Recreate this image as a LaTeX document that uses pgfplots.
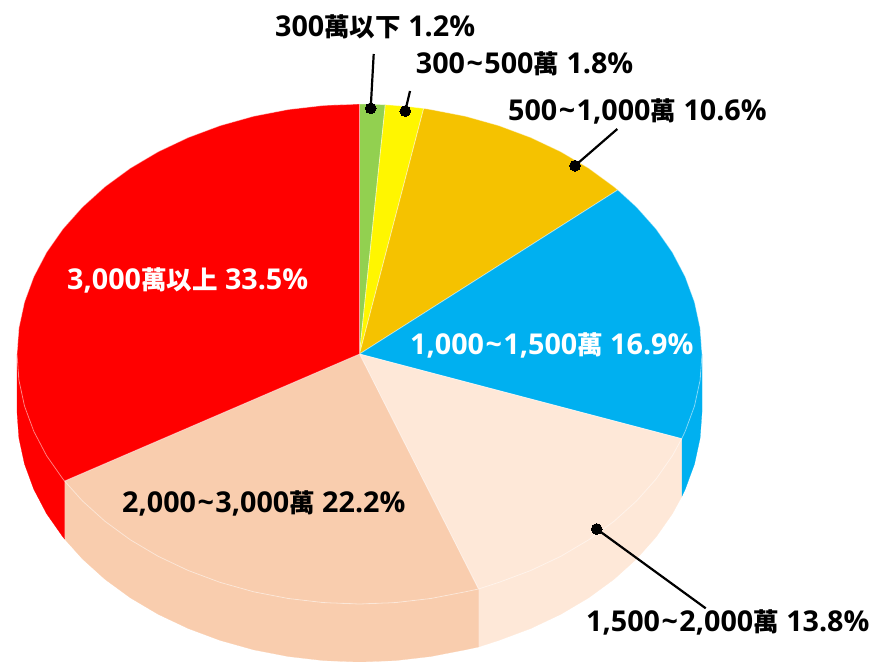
\documentclass[border=0pt]{standalone}
\usepackage{fontspec}
\usepackage{pgfplots}
\pgfplotsset{compat=1.18}
\setmainfont{Open Sans}
\newfontfamily\cjk{Noto Sans CJK TC Bold}
\definecolor{cgreen}{HTML}{92D050}
\definecolor{cyellow}{HTML}{FFF600}
\definecolor{corange}{HTML}{F5C200}
\definecolor{cblue}{HTML}{00B0F0}
\definecolor{clight}{HTML}{FEE8D8}
\definecolor{cpeach}{HTML}{F9CDAE}
\definecolor{cred}{HTML}{FF0000}
\newcommand{\lab}[4]{\node[anchor=base west,inner sep=0pt,text=#4,font=\fontsize{28.7}{30}\selectfont\bfseries] at (axis cs:#1,#2) {#3};}
\newcommand{\C}[1]{{\fontsize{25.5}{29}\cjk #1}}
\newcommand{\T}{\kern1.5pt\textasciitilde\kern1.5pt}
\begin{document}
\begin{tikzpicture}
\begin{axis}[
  at={(0,0)}, anchor=south west,
  scale only axis, width=872pt, height=661pt,
  xmin=0, xmax=872, ymin=0, ymax=661, y dir=reverse,
  hide axis, clip=true,
  rim/.style={draw=white,draw opacity=0.45,line width=0.8pt,line join=round},
  lead/.style={black,line width=2.2pt,mark=*,mark size=5.4pt,mark options={fill=black,draw=black,line width=0pt},mark indices={2}}
]
% side walls
\addplot[fill=cblue,draw=cblue,line width=0.2pt] coordinates {(702,354)(700.1,380.1)(694.5,406)(685.2,431.3)(681.7,438.7)(681.7,496.7)(685.2,489.3)(694.5,464)(700.1,438.1)(702,412)} --cycle;
\addplot[fill=clight,draw=clight,line width=0.2pt] coordinates {(681.7,438.7)(672.4,455.7)(656.1,479)(636.6,500.9)(614,521.3)(588.7,539.8)(560.8,556.3)(530.75,570.5)(498.8,582.4)(478.5,589)(478.5,647)(498.8,640.4)(530.75,628.5)(560.8,614.3)(588.7,597.8)(614,579.3)(636.6,558.9)(656.1,537)(672.4,513.7)(681.7,496.7)} --cycle;
\addplot[fill=cpeach,draw=cpeach,line width=0.2pt] coordinates {(478.5,589)(465.3,591.8)(430.7,598.5)(395.3,602.6)(359.5,604)(323.7,602.6)(288.3,598.5)(253.7,591.8)(220.2,582.4)(188.25,570.5)(158.2,556.3)(130.3,539.8)(105,521.3)(82.4,500.9)(64.6,481)(64.6,539)(82.4,558.9)(105,579.3)(130.3,597.8)(158.2,614.3)(188.25,628.5)(220.2,640.4)(253.7,649.8)(288.3,656.5)(323.7,660.6)(359.5,662)(395.3,660.6)(430.7,656.5)(465.3,649.8)(478.5,647)} --cycle;
\addplot[fill=cred,draw=cred,line width=0.2pt] coordinates {(64.6,481)(62.9,479)(46.6,455.7)(33.8,431.3)(24.5,406)(18.9,380.1)(17,354)(17,412)(18.9,438.1)(24.5,464)(33.8,489.3)(46.6,513.7)(62.9,537)(64.6,539)} --cycle;
% top wedges
\addplot[fill=cgreen,rim] coordinates {(359.5,354)(359.5,104)(372.5,104.2)(385.3,104.7)} --cycle;
\addplot[fill=cyellow,rim] coordinates {(359.5,354)(385.3,104.7)(395.3,105.4)(409.5,106.7)(423.7,108.4)} --cycle;
\addplot[fill=corange,rim] coordinates {(359.5,354)(423.7,108.4)(430.7,109.5)(465.3,116.2)(498.8,125.6)(530.75,137.5)(560.8,151.7)(588.7,168.2)(614,186.7)(617.8,189.9)} --cycle;
\addplot[fill=cblue,rim] coordinates {(359.5,354)(617.8,189.9)(636.6,207.1)(656.1,229)(672.4,252.3)(685.2,276.7)(694.5,302)(700.1,327.9)(702,354)(700.1,380.1)(694.5,406)(685.2,431.3)(681.7,438.7)} --cycle;
\addplot[fill=clight,rim] coordinates {(359.5,354)(681.7,438.7)(672.4,455.7)(656.1,479)(636.6,500.9)(614,521.3)(588.7,539.8)(560.8,556.3)(530.75,570.5)(498.8,582.4)(478.5,589)} --cycle;
\addplot[fill=cpeach,rim] coordinates {(359.5,354)(478.5,589)(465.3,591.8)(430.7,598.5)(395.3,602.6)(359.5,604)(323.7,602.6)(288.3,598.5)(253.7,591.8)(220.2,582.4)(188.25,570.5)(158.2,556.3)(130.3,539.8)(105,521.3)(82.4,500.9)(64.6,481)} --cycle;
\addplot[fill=cred,rim] coordinates {(359.5,354)(64.6,481)(62.9,479)(46.6,455.7)(33.8,431.3)(24.5,406)(18.9,380.1)(17,354)(18.9,327.9)(24.5,302)(33.8,276.7)(46.6,252.3)(62.9,229)(82.4,207.1)(105,186.7)(130.3,168.2)(158.2,151.7)(188.25,137.5)(220.2,125.6)(253.7,116.2)(288.3,109.5)(323.7,105.4)(359.5,104)} --cycle;
% leaders
\addplot[lead] coordinates {(373.7,54)(370.7,108.3)};
\addplot[lead] coordinates {(410,91)(405.3,111)};
\addplot[lead] coordinates {(617.3,129)(575,165.7)};
\addplot[lead] coordinates {(705.7,608.3)(596.7,529)};
% labels
\lab{275}{37}{300\C{萬以下} 1.2\%}{black}
\lab{415.7}{74}{300\T 500\C{萬} 1.8\%}{black}
\lab{508}{120}{500\T 1,000\C{萬} 10.6\%}{black}
\lab{67}{289}{3,000\C{萬以上} 33.5\%}{white}
\lab{410}{354}{1,000\T 1,500\C{萬} 16.9\%}{white}
\lab{122}{512}{2,000\T 3,000\C{萬} 22.2\%}{black}
\lab{586}{631}{1,500\T 2,000\C{萬} 13.8\%}{black}
\end{axis}
\pgfresetboundingbox
\path[use as bounding box] (0,0) rectangle (872pt,661pt);
\end{tikzpicture}
\end{document}
